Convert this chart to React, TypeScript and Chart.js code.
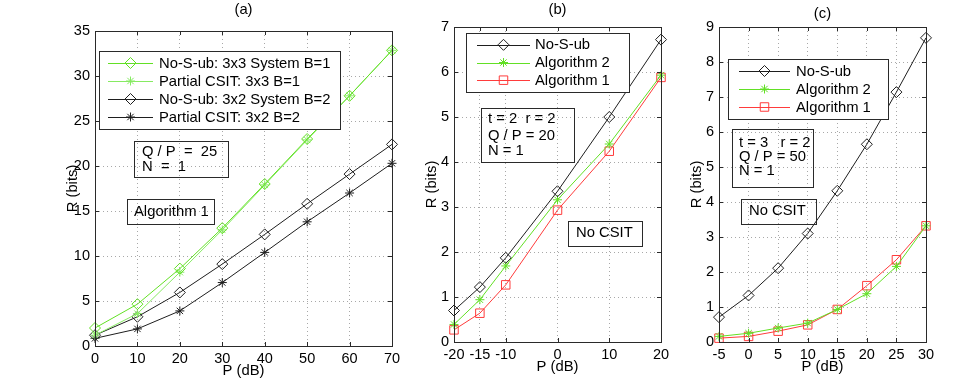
import React, { useEffect, useRef } from "react";
import { Chart, registerables } from "chart.js";

Chart.register(...registerables);

// ---------- data ----------
const aX = [0, 10, 20, 30, 40, 50, 60, 70];
const aNoSub33 = [2.0, 4.65, 8.6, 13.1, 18.0, 23.0, 27.8, 32.85];
const aPartial33 = [1.2, 3.6, 8.2, 12.9, 17.9, 22.9, 27.8, 32.85];
const aNoSub32 = [1.2, 3.25, 5.95, 9.1, 12.4, 15.8, 19.1, 22.4];
const aPartial32 = [0.85, 1.9, 3.9, 7.05, 10.4, 13.8, 17.0, 20.3];
const aXTicks = [0, 10, 20, 30, 40, 50, 60, 70];
const aYTicks = [0, 5, 10, 15, 20, 25, 30, 35];

const bX = [-20, -15, -10, 0, 10, 20];
const bNoSub = [0.7, 1.22, 1.87, 3.35, 5.0, 6.72];
const bAlg2 = [0.39, 0.94, 1.69, 3.16, 4.4, 5.93];
const bAlg1 = [0.27, 0.64, 1.27, 2.93, 4.24, 5.88];
const bXTicks = [-20, -15, -10, 0, 10, 20];
const bYTicks = [0, 1, 2, 3, 4, 5, 6, 7];

const cX = [-5, 0, 5, 10, 15, 20, 25, 30];
const cNoSub = [0.71, 1.33, 2.11, 3.1, 4.32, 5.65, 7.14, 8.69];
const cAlg2 = [0.16, 0.25, 0.4, 0.54, 0.93, 1.38, 2.16, 3.32];
const cAlg1 = [0.11, 0.16, 0.31, 0.49, 0.93, 1.61, 2.35, 3.32];
const cXTicks = [-5, 0, 5, 10, 15, 20, 25, 30];
const cYTicks = [0, 1, 2, 3, 4, 5, 6, 7, 8, 9];

const aLabels = [
  "No-S-ub: 3x3 System B=1",
  "Partial CSIT: 3x3 B=1",
  "No-S-ub: 3x2 System B=2",
  "Partial CSIT: 3x2 B=2",
];
const bcLabels = ["No-S-ub", "Algorithm 2", "Algorithm 1"];

// ---------- styles ----------
const FONT = '"Liberation Sans", Arial, Helvetica, sans-serif';
const FS = 14.8;
const FT = 14.5;
const GREEN = "#62e024";
const LGREEN = "#86ea62";
const BLACK = "#1e1e1e";
const RED = "#ff3b3b";
const AXIS = "#2a2a2a";
const GRID = "#a8a8a8";

type Series = { label: string; values: number[]; color: string; marker: string; r: number };
type Box = { x: number; y: number; w: number; h: number; lines: string[]; textX: number; ys: number[] };
type Spec = {
  left: number; width: number; padTop: number; padRight: number; yAxisW: number; xAxisH: number;
  xTitlePad: number; yTitlePad: number; xTickPad: number;
  x: number[]; series: Series[]; xMin: number; xMax: number; yMin: number; yMax: number;
  xTicks: number[]; yTicks: number[]; title: string; titleY: number;
  legend: { x: number; y: number; w: number; h: number; l1: number; l2: number; tx: number };
  boxes: Box[];
};

function drawMarker(ctx: CanvasRenderingContext2D, style: string, x: number, y: number, r: number) {
  ctx.beginPath();
  if (style === "rectRot") {
    ctx.moveTo(x - r, y); ctx.lineTo(x, y - r); ctx.lineTo(x + r, y); ctx.lineTo(x, y + r); ctx.closePath();
  } else if (style === "rect") {
    const s = Math.SQRT1_2 * r;
    ctx.rect(x - s, y - s, 2 * s, 2 * s);
  } else if (style === "star") {
    const d = Math.SQRT1_2 * r;
    ctx.moveTo(x, y - r); ctx.lineTo(x, y + r);
    ctx.moveTo(x - r, y); ctx.lineTo(x + r, y);
    ctx.moveTo(x - d, y - d); ctx.lineTo(x + d, y + d);
    ctx.moveTo(x - d, y + d); ctx.lineTo(x + d, y - d);
  }
  ctx.stroke();
}

function makePlugin(spec: Spec) {
  return {
    id: "decor",
    afterDraw(chart: any) {
      const ctx: CanvasRenderingContext2D = chart.ctx;
      const { left, right, top, bottom } = chart.chartArea;
      const ox = spec.left;
      const xs = chart.scales.x;
      const ys = chart.scales.y;
      const al = (v: number) => Math.round(v) + 0.5;
      ctx.save();
      // inward ticks
      ctx.strokeStyle = AXIS;
      ctx.lineWidth = 1;
      ctx.beginPath();
      spec.xTicks.forEach((v) => {
        const px = al(xs.getPixelForValue(v));
        ctx.moveTo(px, bottom); ctx.lineTo(px, bottom - 4);
        ctx.moveTo(px, top); ctx.lineTo(px, top + 4);
      });
      spec.yTicks.forEach((v) => {
        const py = al(ys.getPixelForValue(v));
        ctx.moveTo(left, py); ctx.lineTo(left + 4, py);
        ctx.moveTo(right, py); ctx.lineTo(right - 4, py);
      });
      ctx.stroke();
      // frame
      ctx.strokeRect(al(left), al(top), Math.round(right) - Math.round(left), Math.round(bottom) - Math.round(top));

      // legend
      const L = spec.legend;
      const lx = L.x - ox;
      ctx.fillStyle = "#ffffff";
      ctx.fillRect(lx, L.y, L.w, L.h);
      ctx.strokeStyle = AXIS;
      ctx.strokeRect(al(lx), al(L.y), L.w, L.h);
      const n = spec.series.length;
      const rowH = (L.h - 6) / n;
      ctx.font = `${FS}px ${FONT}`;
      ctx.textBaseline = "middle";
      ctx.textAlign = "left";
      spec.series.forEach((s, i) => {
        const y = L.y + 3 + rowH * (i + 0.5);
        ctx.strokeStyle = s.color;
        ctx.lineWidth = 1;
        ctx.beginPath();
        ctx.moveTo(L.l1 - ox, al(y)); ctx.lineTo(L.l2 - ox, al(y));
        ctx.stroke();
        drawMarker(ctx, s.marker, (L.l1 + L.l2) / 2 - ox, y, s.r);
        ctx.fillStyle = "#000";
        ctx.fillText(s.label, L.tx - ox, y + 0.5);
      });

      // text boxes
      spec.boxes.forEach((b) => {
        ctx.strokeStyle = AXIS;
        ctx.lineWidth = 1;
        ctx.strokeRect(al(b.x - ox), al(b.y), b.w, b.h);
        ctx.fillStyle = "#000";
        b.lines.forEach((t, i) => ctx.fillText(t, b.textX - ox, b.ys[i]));
      });

      // title
      ctx.textAlign = "center";
      ctx.fillText(spec.title, (left + right) / 2, spec.titleY);
      ctx.restore();
    },
  };
}

function ChartBox({ spec }: { spec: Spec }) {
  const ref = useRef<HTMLCanvasElement | null>(null);
  useEffect(() => {
    if (!ref.current) return;
    const chart = new Chart(ref.current, {
      type: "line",
      data: {
        datasets: spec.series.map((s) => ({
          label: s.label,
          data: spec.x.map((x, i) => ({ x, y: s.values[i] })),
          borderColor: s.color,
          backgroundColor: "transparent",
          borderWidth: 1,
          pointStyle: s.marker as any,
          pointRadius: s.r,
          pointBorderColor: s.color,
          pointBackgroundColor: "transparent",
          pointBorderWidth: 1,
          tension: 0,
          clip: false as any,
        })),
      },
      options: {
        responsive: false,
        animation: false,
        devicePixelRatio: 1,
        layout: { padding: { top: spec.padTop, right: spec.padRight, bottom: 0, left: 0 } },
        plugins: { legend: { display: false }, tooltip: { enabled: false }, title: { display: false } },
        scales: {
          x: {
            type: "linear",
            min: spec.xMin,
            max: spec.xMax,
            afterBuildTicks: (s: any) => { s.ticks = spec.xTicks.map((v) => ({ value: v })); },
            afterFit: (s: any) => { s.height = spec.xAxisH; },
            grid: { color: GRID, drawTicks: false, lineWidth: 1 },
            border: { display: false, dash: [1, 3] },
            ticks: { padding: spec.xTickPad, color: "#000", font: { size: FT, family: FONT }, maxRotation: 0, autoSkip: false },
            title: { display: true, text: "P (dB)", color: "#000", font: { size: FS, family: FONT }, padding: { top: 0, bottom: spec.xTitlePad } },
          },
          y: {
            type: "linear",
            min: spec.yMin,
            max: spec.yMax,
            afterBuildTicks: (s: any) => { s.ticks = spec.yTicks.map((v) => ({ value: v })); },
            afterFit: (s: any) => { s.width = spec.yAxisW; },
            grid: { color: GRID, drawTicks: false, lineWidth: 1 },
            border: { display: false, dash: [1, 3] },
            ticks: { padding: 5, color: "#000", font: { size: FT, family: FONT }, autoSkip: false },
            title: { display: true, text: "R (bits)", color: "#000", font: { size: FS, family: FONT }, padding: { top: spec.yTitlePad, bottom: 0 } },
          },
        },
      },
      plugins: [makePlugin(spec)],
    } as any);
    return () => chart.destroy();
  }, [spec]);
  return (
    <canvas
      ref={ref}
      width={spec.width}
      height={388}
      style={{ position: "absolute", left: spec.left, top: 0, width: spec.width, height: 388 }}
    />
  );
}

const specA: Spec = {
  left: 40, width: 370, padTop: 31, padRight: 18, yAxisW: 55, xAxisH: 42,
  xTitlePad: 8.2, yTitlePad: 24.2, xTickPad: 4,
  x: aX,
  series: [
    { label: aLabels[0], values: aNoSub33, color: GREEN, marker: "rectRot", r: 5.5 },
    { label: aLabels[1], values: aPartial33, color: LGREEN, marker: "star", r: 4.5 },
    { label: aLabels[2], values: aNoSub32, color: BLACK, marker: "rectRot", r: 5.5 },
    { label: aLabels[3], values: aPartial32, color: BLACK, marker: "star", r: 4.5 },
  ],
  xMin: 0, xMax: 70, yMin: 0, yMax: 35, xTicks: aXTicks, yTicks: aYTicks,
  title: "(a)", titleY: 10,
  legend: { x: 99, y: 51, w: 241, h: 78, l1: 108, l2: 153, tx: 159 },
  boxes: [
    { x: 134, y: 141, w: 94, h: 36, lines: ["Q / P  =  25", "N  =  1"], textX: 142, ys: [152, 167] },
    { x: 127, y: 199, w: 87, h: 25, lines: ["Algorithm 1"], textX: 134, ys: [212] },
  ],
};

const specB: Spec = {
  left: 410, width: 270, padTop: 27, padRight: 19, yAxisW: 44, xAxisH: 46,
  xTitlePad: 12.2, yTitlePad: 13.2, xTickPad: 4,
  x: bX,
  series: [
    { label: bcLabels[0], values: bNoSub, color: BLACK, marker: "rectRot", r: 5.5 },
    { label: bcLabels[1], values: bAlg2, color: GREEN, marker: "star", r: 4.5 },
    { label: bcLabels[2], values: bAlg1, color: RED, marker: "rect", r: 6 },
  ],
  xMin: -20, xMax: 20, yMin: 0, yMax: 7, xTicks: bXTicks, yTicks: bYTicks,
  title: "(b)", titleY: 10,
  legend: { x: 466, y: 33, w: 163, h: 59, l1: 477, l2: 530, tx: 535 },
  boxes: [
    { x: 481, y: 108, w: 93, h: 54, lines: ["t = 2  r = 2", "Q / P = 20", "N = 1"], textX: 488, ys: [119, 136, 151] },
    { x: 568, y: 221, w: 74, h: 25, lines: ["No CSIT"], textX: 576, ys: [233] },
  ],
};

const specC: Spec = {
  left: 680, width: 289, padTop: 27, padRight: 43, yAxisW: 39, xAxisH: 46,
  xTitlePad: 12.2, yTitlePad: 8.5, xTickPad: 4,
  x: cX,
  series: [
    { label: bcLabels[0], values: cNoSub, color: BLACK, marker: "rectRot", r: 5.5 },
    { label: bcLabels[1], values: cAlg2, color: GREEN, marker: "star", r: 4.5 },
    { label: bcLabels[2], values: cAlg1, color: RED, marker: "rect", r: 6 },
  ],
  xMin: -5, xMax: 30, yMin: 0, yMax: 9, xTicks: cXTicks, yTicks: cYTicks,
  title: "(c)", titleY: 14,
  legend: { x: 728, y: 59, w: 160, h: 60, l1: 739, l2: 790, tx: 796 },
  boxes: [
    { x: 732, y: 129, w: 81, h: 58, lines: ["t = 3   r = 2", "Q / P = 50", "N = 1"], textX: 739, ys: [143, 157, 171] },
    { x: 741, y: 199, w: 75, h: 25, lines: ["No CSIT"], textX: 749, ys: [211] },
  ],
};

export default function App() {
  return (
    <div style={{ position: "absolute", left: 0, top: 0, width: 969, height: 388, background: "#fff", overflow: "hidden" }}>
      <ChartBox spec={specA} />
      <ChartBox spec={specB} />
      <ChartBox spec={specC} />
    </div>
  );
}
